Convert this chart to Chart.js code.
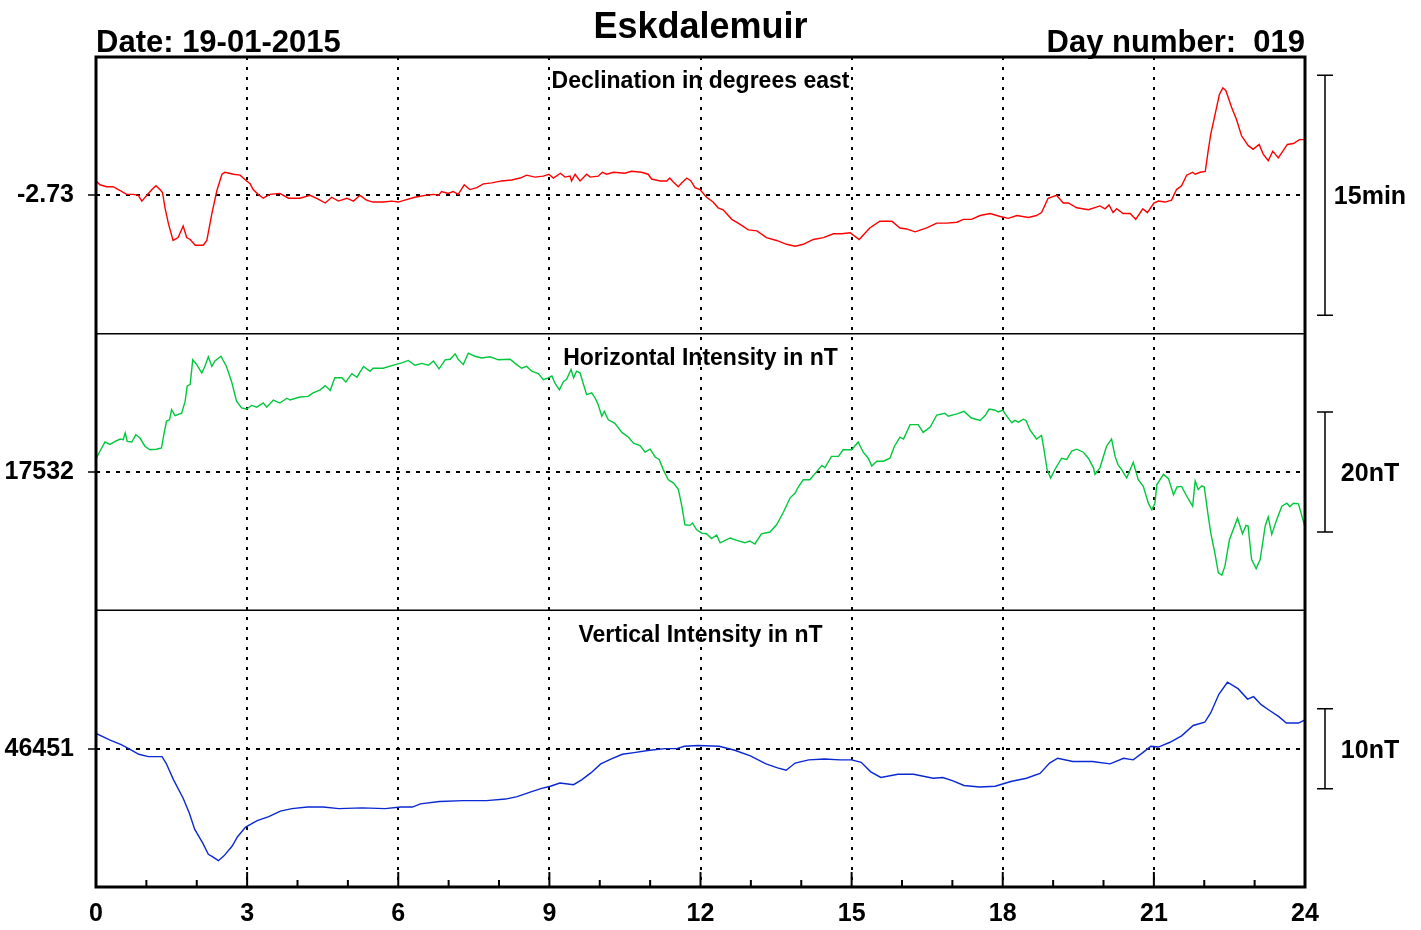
<!DOCTYPE html>
<html>
<head>
<meta charset="utf-8">
<title>Eskdalemuir 19-01-2015</title>
<script src="https://cdn.jsdelivr.net/npm/chart.js@4.4.1/dist/chart.umd.min.js"></script>
<style>
  html, body { margin: 0; padding: 0; background: #fff; }
  canvas { display: block; }
</style>
</head>
<body>
<canvas id="magChart" width="1421" height="930"></canvas>
<script>
const station = 'Eskdalemuir';
const dateText = 'Date: 19-01-2015';
const dayText = 'Day number:  019';

// declination, degrees east
const decHours = [0.00,0.08,0.21,0.34,0.48,0.54,0.61,0.74,0.84,0.91,1.01,1.11,1.19,1.27,1.32,1.37,1.44,1.53,1.63,1.73,1.80,1.87,1.97,2.13,2.20,2.30,2.40,2.50,2.56,2.73,2.86,2.99,3.06,3.12,3.22,3.32,3.45,3.65,3.82,4.05,4.25,4.41,4.55,4.68,4.81,4.98,5.11,5.24,5.37,5.50,5.70,5.87,6.00,6.13,6.33,6.53,6.70,6.80,6.86,6.99,7.09,7.19,7.31,7.42,7.56,7.69,7.86,8.05,8.25,8.42,8.55,8.71,8.88,8.99,9.08,9.22,9.31,9.41,9.44,9.51,9.61,9.74,9.81,9.97,10.05,10.14,10.27,10.50,10.63,10.83,10.96,11.03,11.20,11.33,11.39,11.46,11.56,11.63,11.73,11.81,11.89,11.99,12.12,12.25,12.35,12.45,12.62,12.78,12.95,13.12,13.31,13.51,13.71,13.88,14.04,14.24,14.44,14.64,14.80,14.97,15.15,15.36,15.56,15.80,15.96,16.09,16.26,16.49,16.69,16.89,17.09,17.22,17.38,17.55,17.75,17.95,18.11,18.28,18.51,18.67,18.77,18.90,19.07,19.20,19.30,19.47,19.70,19.93,20.03,20.11,20.19,20.26,20.39,20.53,20.64,20.78,20.87,21.00,21.09,21.22,21.35,21.45,21.55,21.65,21.77,21.82,21.92,22.02,22.08,22.13,22.21,22.30,22.37,22.43,22.54,22.64,22.74,22.87,22.97,23.09,23.17,23.27,23.36,23.47,23.65,23.77,23.89,24.00];
const decValues = [-2.715,-2.719,-2.721,-2.721,-2.725,-2.727,-2.729,-2.729,-2.730,-2.736,-2.730,-2.724,-2.720,-2.724,-2.727,-2.743,-2.760,-2.777,-2.774,-2.762,-2.774,-2.776,-2.782,-2.782,-2.777,-2.749,-2.725,-2.708,-2.706,-2.708,-2.709,-2.715,-2.718,-2.724,-2.729,-2.733,-2.729,-2.728,-2.733,-2.733,-2.730,-2.734,-2.738,-2.732,-2.736,-2.733,-2.736,-2.730,-2.735,-2.737,-2.737,-2.736,-2.737,-2.735,-2.732,-2.730,-2.729,-2.730,-2.726,-2.728,-2.726,-2.729,-2.719,-2.724,-2.722,-2.718,-2.717,-2.715,-2.714,-2.712,-2.709,-2.711,-2.710,-2.708,-2.712,-2.707,-2.711,-2.710,-2.715,-2.708,-2.715,-2.708,-2.711,-2.710,-2.706,-2.708,-2.706,-2.707,-2.705,-2.706,-2.708,-2.713,-2.715,-2.715,-2.712,-2.716,-2.721,-2.717,-2.712,-2.715,-2.722,-2.724,-2.732,-2.737,-2.743,-2.745,-2.755,-2.760,-2.766,-2.767,-2.774,-2.777,-2.781,-2.783,-2.781,-2.776,-2.774,-2.770,-2.770,-2.769,-2.776,-2.764,-2.757,-2.757,-2.764,-2.765,-2.768,-2.764,-2.759,-2.759,-2.758,-2.755,-2.755,-2.751,-2.749,-2.752,-2.754,-2.751,-2.753,-2.751,-2.748,-2.733,-2.730,-2.738,-2.738,-2.743,-2.745,-2.741,-2.744,-2.740,-2.748,-2.744,-2.749,-2.749,-2.755,-2.744,-2.748,-2.738,-2.736,-2.737,-2.735,-2.724,-2.720,-2.709,-2.706,-2.708,-2.706,-2.705,-2.683,-2.666,-2.647,-2.625,-2.618,-2.621,-2.638,-2.651,-2.668,-2.678,-2.682,-2.677,-2.687,-2.694,-2.684,-2.691,-2.677,-2.676,-2.672,-2.672];

// horizontal intensity, nT
const horHours = [0.00,0.08,0.18,0.28,0.38,0.48,0.54,0.58,0.62,0.71,0.79,0.87,0.97,1.07,1.20,1.30,1.35,1.40,1.46,1.50,1.57,1.70,1.77,1.81,1.87,1.92,2.00,2.10,2.16,2.23,2.30,2.36,2.48,2.59,2.69,2.79,2.89,2.99,3.09,3.19,3.32,3.39,3.52,3.65,3.79,3.85,4.05,4.21,4.31,4.45,4.55,4.65,4.74,4.88,4.96,5.08,5.18,5.31,5.44,5.50,5.70,5.94,6.07,6.20,6.33,6.47,6.60,6.70,6.81,6.93,7.03,7.13,7.19,7.29,7.39,7.52,7.66,7.82,7.99,8.22,8.35,8.45,8.55,8.65,8.78,8.88,8.98,9.05,9.11,9.20,9.28,9.34,9.43,9.48,9.54,9.61,9.67,9.74,9.84,9.91,9.97,10.04,10.09,10.17,10.30,10.44,10.57,10.67,10.80,10.90,11.00,11.10,11.18,11.26,11.36,11.46,11.56,11.63,11.69,11.79,11.84,11.92,12.02,12.12,12.22,12.32,12.39,12.59,12.72,12.88,12.98,13.08,13.21,13.38,13.51,13.64,13.78,13.88,13.94,14.04,14.17,14.31,14.41,14.47,14.60,14.74,14.83,15.00,15.13,15.23,15.33,15.40,15.50,15.63,15.76,15.85,15.96,16.03,16.16,16.32,16.42,16.56,16.69,16.85,16.92,17.09,17.23,17.38,17.55,17.65,17.73,17.85,17.91,18.00,18.08,18.18,18.24,18.31,18.41,18.46,18.54,18.67,18.77,18.82,18.88,18.95,19.04,19.17,19.27,19.37,19.47,19.60,19.70,19.80,19.83,19.93,20.06,20.16,20.23,20.29,20.36,20.46,20.59,20.69,20.79,20.89,20.96,21.02,21.06,21.19,21.29,21.39,21.46,21.55,21.65,21.77,21.82,21.88,21.95,22.00,22.08,22.13,22.21,22.28,22.35,22.41,22.50,22.66,22.76,22.83,22.87,22.94,23.03,23.11,23.21,23.27,23.34,23.44,23.54,23.64,23.70,23.77,23.87,23.93,24.00];
const horValues = [17534.2,17535.5,17537.0,17536.6,17537.1,17537.5,17537.4,17538.5,17537.1,17537.0,17538.2,17537.7,17536.3,17535.7,17535.8,17536.0,17538.4,17540.5,17540.7,17542.4,17541.4,17541.8,17543.8,17546.3,17546.6,17550.7,17549.9,17548.5,17549.6,17551.2,17549.6,17550.5,17551.3,17549.6,17547.1,17543.8,17542.7,17542.5,17543.1,17542.8,17543.5,17542.8,17544.0,17543.5,17544.3,17544.0,17544.5,17544.6,17545.2,17545.7,17546.4,17545.6,17547.7,17547.7,17547.0,17548.4,17547.8,17549.6,17548.8,17549.3,17549.3,17549.9,17550.2,17550.6,17549.8,17550.1,17549.8,17550.5,17549.2,17550.7,17550.8,17551.7,17550.8,17549.9,17551.8,17551.3,17551.0,17551.2,17550.7,17550.8,17549.9,17549.3,17549.6,17548.8,17548.4,17547.4,17547.7,17548.0,17546.8,17545.7,17547.1,17547.4,17549.1,17547.7,17548.8,17548.5,17546.8,17544.9,17545.2,17544.3,17543.2,17541.3,17542.1,17540.7,17540.1,17538.6,17537.8,17536.8,17536.4,17535.3,17535.8,17534.5,17534.1,17532.4,17530.7,17530.2,17529.1,17526.3,17523.2,17523.1,17523.5,17522.4,17521.8,17521.7,17520.9,17521.5,17520.2,17521.0,17520.6,17520.2,17520.5,17520.0,17521.7,17522.0,17523.2,17525.2,17527.7,17528.5,17529.5,17530.7,17530.7,17532.1,17533.1,17532.7,17534.6,17534.6,17535.7,17535.7,17537.0,17535.3,17534.3,17533.0,17533.8,17533.8,17534.3,17536.3,17537.8,17537.5,17539.9,17539.9,17538.6,17539.5,17541.5,17541.8,17541.3,17541.7,17542.1,17541.0,17540.6,17541.4,17542.5,17542.3,17542.0,17542.3,17541.3,17540.2,17540.6,17540.3,17540.8,17540.6,17539.0,17537.5,17538.1,17535.7,17532.4,17531.0,17532.5,17534.3,17534.1,17535.5,17535.8,17535.3,17534.3,17532.7,17531.6,17532.7,17536.3,17537.5,17534.6,17533.2,17532.4,17531.0,17533.6,17530.7,17529.6,17526.8,17525.7,17526.8,17529.9,17531.6,17530.9,17528.2,17529.5,17529.6,17528.0,17526.3,17530.5,17529.1,17529.7,17529.5,17524.6,17521.8,17518.5,17515.2,17514.8,17516.3,17520.7,17524.3,17521.7,17523.1,17523.0,17517.4,17515.9,17517.4,17523.0,17524.5,17521.6,17524.1,17526.3,17526.8,17526.2,17526.8,17526.7,17524.9,17522.8];

// vertical intensity, nT
const verHours = [0.00,0.27,0.50,0.65,0.85,1.04,1.31,1.39,1.54,1.73,1.85,1.96,2.12,2.23,2.31,2.43,2.54,2.70,2.81,2.97,3.20,3.43,3.66,3.89,4.20,4.51,4.82,5.28,5.74,6.05,6.28,6.44,6.82,7.29,7.75,8.13,8.36,8.59,8.83,9.02,9.21,9.48,9.64,9.83,10.02,10.22,10.45,10.68,10.99,11.30,11.53,11.68,11.95,12.37,12.68,12.99,13.30,13.53,13.70,13.88,14.15,14.46,14.77,15.00,15.19,15.38,15.58,15.92,16.23,16.62,16.81,17.00,17.23,17.54,17.85,18.16,18.47,18.74,18.93,19.09,19.39,19.78,20.13,20.40,20.59,20.78,20.94,21.09,21.32,21.55,21.78,22.01,22.13,22.29,22.46,22.67,22.86,22.98,23.13,23.29,23.48,23.63,23.87,24.00];
const verValues = [46452.9,46452.1,46451.5,46451.0,46450.3,46450.0,46450.0,46449.2,46447.1,46444.8,46443.0,46440.9,46439.2,46437.8,46437.5,46437.0,46437.6,46438.8,46440.0,46441.2,46442.0,46442.5,46443.2,46443.5,46443.7,46443.7,46443.5,46443.6,46443.5,46443.7,46443.7,46444.1,46444.4,46444.5,46444.5,46444.7,46445.0,46445.5,46446.0,46446.3,46446.7,46446.5,46447.1,46448.0,46449.1,46449.7,46450.3,46450.5,46450.8,46451.0,46451.0,46451.3,46451.4,46451.3,46450.8,46450.1,46449.1,46448.6,46448.3,46449.2,46449.6,46449.7,46449.6,46449.6,46449.3,46448.1,46447.4,46447.8,46447.8,46447.3,46447.4,46447.0,46446.4,46446.2,46446.3,46446.9,46447.3,46447.9,46449.2,46449.8,46449.4,46449.4,46449.1,46449.8,46449.6,46450.5,46451.3,46451.2,46451.8,46452.6,46453.9,46454.3,46455.5,46457.8,46459.3,46458.5,46457.2,46457.5,46456.5,46455.8,46455.0,46454.2,46454.2,46454.6];

const panelIds = ['yD', 'yH', 'yZ'];
const panelTitles = ['Declination in degrees east', 'Horizontal Intensity in nT', 'Vertical Intensity in nT'];
const baseValues = [-2.73, 17532, 46451];
const baseLabels = ['-2.73', '17532', '46451'];
const halfRanges = [0.1441, 23.06, 17.29];
const barSpans = [0.25, 20, 10];
const barLabels = ['15min', '20nT', '10nT'];
const lineColors = ['#ff0000', '#00c83c', '#0a28d2'];

const FONT = "'Liberation Sans', Arial, Helvetica, sans-serif";
Chart.defaults.font.family = FONT;
Chart.defaults.color = '#000';

const toPoints = (hours, values) => hours.map((h, i) => ({ x: h, y: values[i] }));

function panelAxis(i) {
  return {
    type: 'linear',
    position: 'left',
    stack: 'panels',
    stackWeight: 1,
    min: baseValues[i] - halfRanges[i],
    max: baseValues[i] + halfRanges[i],
    afterBuildTicks: scale => { scale.ticks = [{ value: baseValues[i] }]; },
    afterFit: scale => { scale.width = 96; },
    ticks: {
      callback: () => baseLabels[i],
      font: { size: 25, weight: 'bold' },
      color: '#000',
      padding: 14
    },
    grid: {
      color: '#000',
      lineWidth: 2,
      tickColor: '#000',
      tickWidth: 1.5,
      tickLength: 8
    },
    border: { display: false, dash: [4, 6] }
  };
}

// frame, inward hour ticks, panel titles, scale bars and header
const decorations = {
  id: 'decorations',
  afterDraw(chart) {
    const { ctx, chartArea: area, scales } = chart;
    const midX = (area.left + area.right) / 2;
    ctx.save();
    ctx.strokeStyle = '#000';
    ctx.fillStyle = '#000';

    ctx.lineWidth = 2;
    for (let h = 1; h < 24; h++) {
      const px = scales.x.getPixelForValue(h);
      ctx.beginPath();
      ctx.moveTo(px, area.bottom);
      ctx.lineTo(px, area.bottom - (h % 3 === 0 ? 15 : 7));
      ctx.stroke();
    }

    ctx.lineWidth = 1.5;
    [scales.yD.bottom, scales.yH.bottom].forEach(y => {
      ctx.beginPath();
      ctx.moveTo(area.left, y);
      ctx.lineTo(area.right, y);
      ctx.stroke();
    });

    ctx.lineWidth = 3;
    ctx.strokeRect(area.left, area.top, area.right - area.left, area.bottom - area.top);

    ctx.textAlign = 'center';
    ctx.textBaseline = 'middle';
    panelIds.forEach((id, i) => {
      const s = scales[id];
      ctx.font = 'bold 23px ' + FONT;
      ctx.fillText(panelTitles[i], midX, s.top + 25);

      const bx = area.right + 20;
      const yTop = s.getPixelForValue(baseValues[i] + barSpans[i] / 2);
      const yBot = s.getPixelForValue(baseValues[i] - barSpans[i] / 2);
      ctx.lineWidth = 1.5;
      ctx.beginPath();
      ctx.moveTo(bx, yTop); ctx.lineTo(bx, yBot);
      ctx.moveTo(bx - 8, yTop); ctx.lineTo(bx + 8, yTop);
      ctx.moveTo(bx - 8, yBot); ctx.lineTo(bx + 8, yBot);
      ctx.stroke();
      ctx.font = 'bold 25px ' + FONT;
      ctx.fillText(barLabels[i], area.right + 65, s.getPixelForValue(baseValues[i]) + 2);
    });

    ctx.textBaseline = 'alphabetic';
    ctx.font = 'bold 36px ' + FONT;
    ctx.fillText(station, midX, 38);
    ctx.font = 'bold 31px ' + FONT;
    ctx.textAlign = 'left';
    ctx.fillText(dateText, area.left, 52);
    ctx.textAlign = 'right';
    ctx.fillText(dayText, area.right, 52);
    ctx.restore();
  }
};

new Chart(document.getElementById('magChart'), {
  type: 'line',
  data: {
    datasets: [
      { data: toPoints(decHours, decValues), yAxisID: 'yD', borderColor: lineColors[0] },
      { data: toPoints(horHours, horValues), yAxisID: 'yH', borderColor: lineColors[1] },
      { data: toPoints(verHours, verValues), yAxisID: 'yZ', borderColor: lineColors[2] }
    ]
  },
  options: {
    responsive: false,
    animation: false,
    layout: { padding: { top: 57, right: 116, left: 0, bottom: 0 } },
    elements: {
      point: { radius: 0 },
      line: { borderWidth: 1.4, tension: 0, fill: false }
    },
    plugins: {
      legend: { display: false },
      title: { display: false },
      tooltip: { enabled: false }
    },
    scales: {
      x: {
        type: 'linear',
        position: 'bottom',
        min: 0,
        max: 24,
        afterFit: scale => { scale.height = 43; },
        ticks: {
          stepSize: 1,
          autoSkip: false,
          maxRotation: 0,
          padding: 12,
          font: { size: 25, weight: 'bold' },
          color: '#000',
          callback: v => (v % 3 === 0 ? String(v) : '')
        },
        grid: {
          drawTicks: false,
          lineWidth: 2,
          color: c => {
            const v = c.tick ? c.tick.value : 0;
            return v % 3 === 0 && v > 0 && v < 24 ? '#000' : 'rgba(0,0,0,0)';
          }
        },
        border: { display: false, dash: [3, 7] }
      },
      yZ: panelAxis(2),
      yH: panelAxis(1),
      yD: panelAxis(0)
    }
  },
  plugins: [decorations]
});
</script>
</body>
</html>
